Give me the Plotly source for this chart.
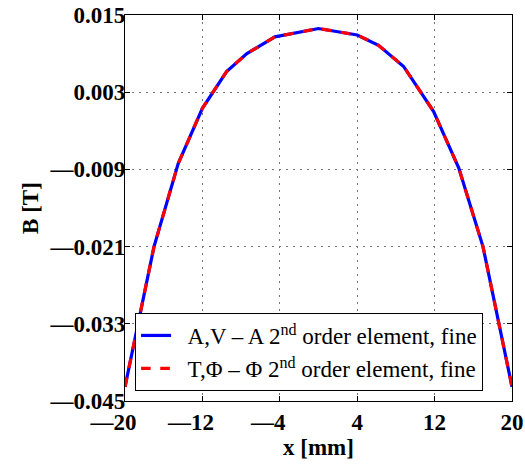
import plotly.graph_objects as go

x_av = [-20, -17.0, -14.5, -12.0, -9.5, -7.4, -4.5, 0.0, 4.0, 6.2, 8.8, 11.9, 14.5, 17.0, 20]
b_av = [-0.0428, -0.0210, -0.0081, 0.0005, 0.0062, 0.0090, 0.0116, 0.0129, 0.0119, 0.0103, 0.0070, 0.0000, -0.0088, -0.0210, -0.0428]
x_tp = [-20, -17.0, -14.5, -12.0, -9.5, -7.4, -4.5, 0.0, 4.0, 6.2, 8.8, 11.9, 14.5, 17.0, 20]
b_tp = [-0.0428, -0.0210, -0.0081, 0.0005, 0.0062, 0.0090, 0.0116, 0.0129, 0.0119, 0.0103, 0.0070, 0.0000, -0.0088, -0.0210, -0.0428]

x_ticks = [-20, -12, -4, 4, 12, 20]
y_ticks = [-0.045, -0.033, -0.021, -0.009, 0.003, 0.015]
y_ticklabels = ["\u20140.045", "\u20140.033", "\u20140.021", "\u20140.009", "0.003", "0.015"]
x_ticklabels = ["\u201420\u2003", "\u201412\u2003", "\u20144\u2003", "4", "12", "20"]

name_av = "\u2002A,V \u2013 A 2<sup>nd</sup> order element, fine"
name_tp = "\u2002T,\u03a6 \u2013 \u03a6 2<sup>nd</sup> order element, fine"

serif = "Liberation Serif"

fig = go.Figure()
fig.add_trace(go.Scatter(x=x_av, y=b_av, mode="lines", name=name_av, legendgroup="a",
                         line=dict(color="#0000ff", width=3.2)))
fig.add_trace(go.Scatter(x=x_tp, y=b_tp, mode="lines", name=name_tp, legendgroup="b",
                         line=dict(color="#ff0000", width=3.2, dash="dash")))

axis_common = dict(
    showline=True, linecolor="black", linewidth=1.2, mirror="allticks",
    ticks="inside", ticklen=5, tickcolor="black",
    showgrid=True, gridcolor="#777777", griddash="2px,5px", gridwidth=1,
    zeroline=False, automargin=False,
    tickfont=dict(family=serif, size=23, color="black", weight="bold"),
)

fig.update_xaxes(range=[-20, 20], tickvals=x_ticks, ticktext=x_ticklabels,
                 title=dict(text="x [mm]", font=dict(family=serif, size=23, color="black", weight="bold"), standoff=0),
                 **axis_common)
fig.update_yaxes(range=[-0.045, 0.015], tickvals=y_ticks, ticktext=y_ticklabels,
                 ticklabelstandoff=-6,
                 title=dict(text="B [T]", font=dict(family=serif, size=23, color="black", weight="bold"), standoff=4),
                 **axis_common)

fig.update_layout(
    width=525, height=464,
    margin=dict(l=125, r=13, t=15, b=63),
    paper_bgcolor="white", plot_bgcolor="white",
    legend=dict(x=0.026, y=0.228, xanchor="left", yanchor="top",
                bgcolor="white", bordercolor="black", borderwidth=1,
                font=dict(family=serif, size=23, color="black"),
                traceorder="grouped", tracegroupgap=0),
    showlegend=True,
)

fig.write_html("out.html", config={"displayModeBar": False},
               post_script="document.body.style.margin='0';")
